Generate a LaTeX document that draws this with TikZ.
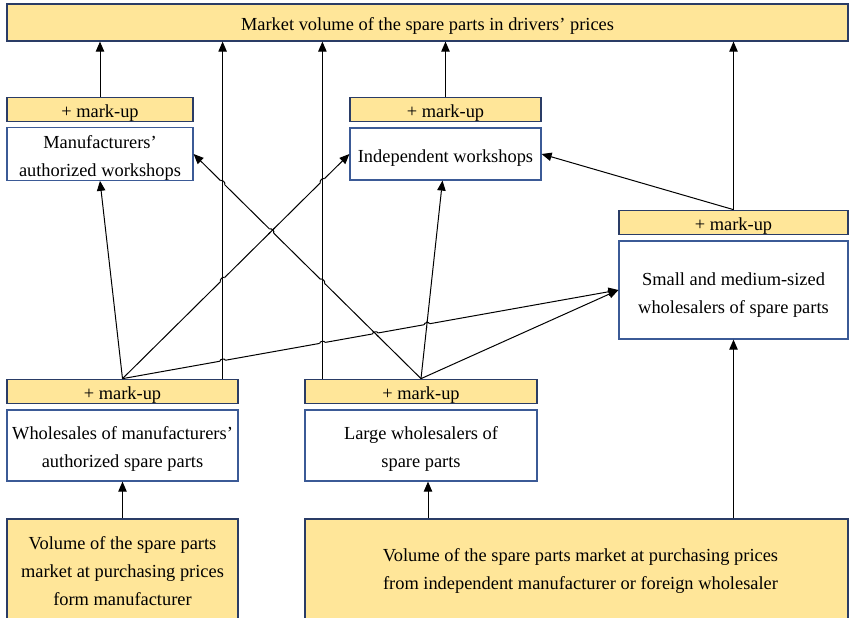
\documentclass[tikz,border=0pt]{standalone}
\usepackage{fontspec}
\setmainfont{Liberation Serif}
\usetikzlibrary{arrows.meta,calc,intersections}

\definecolor{boxfill}{HTML}{FFE699}
\definecolor{edgedark}{HTML}{2A3C66}
\definecolor{edgeblue}{HTML}{3B5A96}

% tall invisible strut on the first text line: sets the text a little lower in its box
\newcommand\firststrut[1][10.3pt]{\rule{0pt}{#1}}

% A line jump: #1 crossing point, #2/#3 ends of the jumping line (left end first),
% #4/#5 ends of the line it jumps over.
\newcommand\linehop[5]{%
  \draw[white,line width=2pt] ($(#1)!1.4pt!(#2)$) -- ($(#1)!1.4pt!(#3)$);
  \draw[conn] ($(#1)!2.2pt!(#4)$) -- ($(#1)!2.2pt!(#5)$);
  \draw[conn] ($(#1)!1.4pt!(#2)$) to[bend left=90] ($(#1)!1.4pt!(#3)$);
}

\begin{document}
\begin{tikzpicture}[x=0.5pt,y=0.5pt,
  every node/.style={font=\fontsize{9.2}{14}\selectfont, inner sep=0pt, align=center},
  ybox/.style={draw=edgedark, fill=boxfill, line width=0.6pt},
  wbox/.style={draw=edgeblue, fill=white, line width=0.6pt},
  conn/.style={draw=black, line width=0.5pt},
  arr/.style={conn, -{Triangle[length=5pt,width=4.2pt]}}]

\useasboundingbox (0,0) rectangle (849,617);

% top level
\node[ybox, minimum width=420.5pt, minimum height=18.5pt] (top) at (427.5,594.5)
  {\firststrut Market volume of the spare parts in drivers’ prices};

% workshops
\node[ybox, minimum width=93pt, minimum height=11.5pt] (mu1) at (100,507.5) {\firststrut + mark-up};
\node[wbox, minimum width=93pt, minimum height=26pt] (maw) at (100,463)
  {\firststrut Manufacturers’\\authorized workshops};
\node[ybox, minimum width=95.5pt, minimum height=11.5pt] (mu2) at (445.5,507.5) {\firststrut + mark-up};
\node[wbox, minimum width=95.5pt, minimum height=26pt] (iw) at (445.5,463)
  {\firststrut Independent workshops};

% small and medium-sized wholesalers
\node[ybox, minimum width=114.5pt, minimum height=11.5pt] (mu3) at (733.5,394.5) {\firststrut + mark-up};
\node[wbox, minimum width=114.5pt, minimum height=49pt] (smw) at (733.5,327)
  {\firststrut[11.3pt]Small and medium-sized\\wholesalers of spare parts};

% large wholesalers
\node[ybox, minimum width=115.5pt, minimum height=11.5pt] (mu4) at (122.5,225.5) {\firststrut + mark-up};
\node[wbox, minimum width=115.5pt, minimum height=35.5pt] (wma) at (122.5,171.5)
  {\firststrut Wholesales of manufacturers’\\authorized spare parts};
\node[ybox, minimum width=116pt, minimum height=11.5pt] (mu5) at (421,225.5) {\firststrut + mark-up};
\node[wbox, minimum width=116pt, minimum height=35.5pt] (lw) at (421,171.5)
  {\firststrut Large wholesalers of\\spare parts};

% purchasing volumes
\node[ybox, minimum width=115.5pt, minimum height=52pt] (vm) at (122.5,46)
  {Volume of the spare parts\\market at purchasing prices\\form manufacturer};
\node[ybox, minimum width=271.5pt, minimum height=52pt] (vi) at (576.5,46)
  {\hspace*{4pt}Volume of the spare parts market at purchasing prices\\\hspace*{4pt}from independent manufacturer or foreign wholesaler};

% helper coordinates
\coordinate (a4) at ($(mu4.north east)+(-16,0)$);
\coordinate (t1) at (a4 |- top.south);
\coordinate (a5) at ($(mu5.north west)+(18,0)$);
\coordinate (t2) at (a5 |- top.south);
\coordinate (ib) at ($(iw.south)+(-3,0)$);
\coordinate (lb) at ($(lw.south)+(7,0)$);

% flows into the top level
\draw[arr] (mu1.north) -- (mu1.north |- top.south);
\draw[arr, name path=v1] (a4) -- (t1);
\draw[arr, name path=v2] (a5) -- (t2);
\draw[arr] (mu2.north) -- (mu2.north |- top.south);
\draw[arr] (mu3.north) -- (mu3.north |- top.south);

% flows from the wholesalers
\draw[arr] (mu4.north) -- (maw.south);
\draw[arr, name path=l7] (mu4.north) -- (iw.west);
\draw[arr, name path=l8] (mu4.north) -- (smw.west);
\draw[arr, name path=l9] (mu5.north) -- (maw.east);
\draw[arr, name path=l10] (mu5.north) -- (ib);
\draw[arr] (mu5.north) -- (smw.west);
\draw[arr] (mu3.north) -- (iw.east);

% flows from the purchasing volumes
\draw[arr] (vm.north) -- (wma.south);
\draw[arr] (lb |- vi.north) -- (lb);
\draw[arr] (smw.south |- vi.north) -- (smw.south);

% crossing points
\path[name intersections={of=v1 and l7, by=x17}];
\path[name intersections={of=v1 and l8, by=x18}];
\path[name intersections={of=v1 and l9, by=x19}];
\path[name intersections={of=v2 and l7, by=x27}];
\path[name intersections={of=v2 and l8, by=x28}];
\path[name intersections={of=v2 and l9, by=x29}];
\path[name intersections={of=l7 and l9, by=x79}];
\path[name intersections={of=l8 and l9, by=x89}];
\path[name intersections={of=l8 and l10, by=x810}];

% line jumps
\linehop{x17}{mu4.north}{iw.west}{a4}{t1}
\linehop{x18}{mu4.north}{smw.west}{a4}{t1}
\linehop{x19}{maw.east}{mu5.north}{a4}{t1}
\linehop{x27}{mu4.north}{iw.west}{a5}{t2}
\linehop{x28}{mu4.north}{smw.west}{a5}{t2}
\linehop{x29}{maw.east}{mu5.north}{a5}{t2}
\linehop{x79}{maw.east}{mu5.north}{mu4.north}{iw.west}
\linehop{x89}{mu4.north}{smw.west}{maw.east}{mu5.north}
\linehop{x810}{mu4.north}{smw.west}{mu5.north}{ib}

\end{tikzpicture}
\end{document}
